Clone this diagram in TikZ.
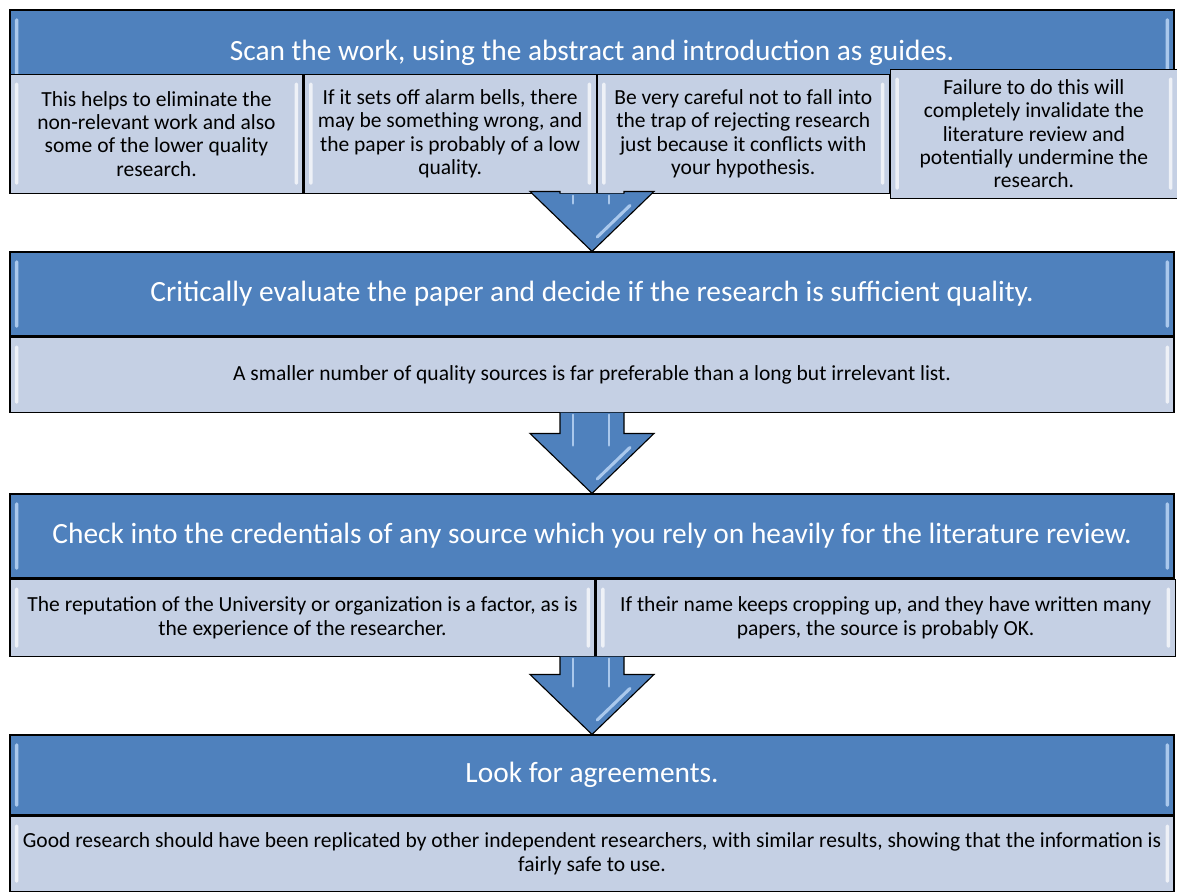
\documentclass[tikz,border=0pt]{standalone}
\usepackage{fontspec}
\setmainfont{Carlito}
\usepackage{tikz}
\usetikzlibrary{positioning,calc}

\definecolor{hdblue}{RGB}{79,129,189}
\definecolor{subblue}{RGB}{197,208,228}
\definecolor{glint}{RGB}{170,200,236}

% block arrow from the bottom of #1 down to the top of #2
\newcommand{\stagearrow}[2]{%
  \draw[barrow] ($(#2.north |- #1.south)+(-0.8,0)$) -- ($(#2.north)+(-0.8,1.5)$)
    -- ($(#2.north)+(-1.55,1.5)$) -- (#2.north) -- ($(#2.north)+(1.55,1.5)$)
    -- ($(#2.north)+(0.8,1.5)$) -- ($(#2.north |- #1.south)+(0.8,0)$);
  \draw[shine] ($(#2.north |- #1.south)+(-0.48,-0.05)$) -- ($(#2.north)+(-0.48,1.2)$);
  \draw[shine] ($(#2.north |- #1.south)+(0.42,-0.05)$) -- ($(#2.north)+(0.42,1.2)$);
  \draw[shine, line width=2.2pt] ($(#2.north)+(0.13,0.36)$) -- ($(#2.north)+(0.95,1.15)$);
}

\begin{document}
\begin{tikzpicture}[
    bevel/.style={path picture={
        \fill[#1, rounded corners=1pt]
          ([xshift=3.5pt,yshift=-6pt]path picture bounding box.north west) rectangle
          ([xshift=6pt,yshift=6pt]path picture bounding box.south west);
        \fill[#1, rounded corners=1pt]
          ([xshift=-3.5pt,yshift=-6pt]path picture bounding box.north east) rectangle
          ([xshift=-6pt,yshift=6pt]path picture bounding box.south east);}},
    head/.style={draw=black, line width=0.8pt, fill=hdblue, text=white,
                 bevel=glint, inner sep=0pt, minimum width=29.1cm,
                 font=\fontsize{20.9}{24}\selectfont},
    sub/.style={draw=black, line width=0.8pt, fill=subblue, align=center,
                bevel=white!70!subblue, inner sep=0pt,
                font=\fontsize{15.3}{16.6}\selectfont},
    barrow/.style={draw=black, line width=0.8pt, fill=hdblue, line join=miter},
    shine/.style={glint, line width=1.6pt, line cap=round}
]
\useasboundingbox (0,0) rectangle (29.425,-22.3);

% stage 1
\node[head, minimum height=2.125cm] (hd1) at (14.8,-1.3125)
    {Scan the work, using the abstract and introduction as guides.};
\node[sub, minimum width=7.325cm, minimum height=2.975cm, anchor=north west]
    (s1a) at ($(hd1.south west)+(0,0.55)$)
    {This helps to eliminate the\\ non-relevant work and also\\
     some of the lower quality\\ research.};
\node[sub, minimum width=7.3cm, minimum height=2.975cm, anchor=north west]
    (s1b) at (s1a.north east)
    {If it sets off alarm bells, there\\ may be something wrong, and\\
     the paper is probably of a low\\ quality.};
\node[sub, minimum width=7.3cm, minimum height=2.975cm, anchor=north west]
    (s1c) at (s1b.north east)
    {Be very careful not to fall into\\ the trap of rejecting research\\
     just because it conflicts with\\ your hypothesis.};
\node[sub, minimum width=7.175cm, minimum height=3.225cm, anchor=west]
    (s1d) at (s1c.east)
    {Failure to do this will\\ completely invalidate the\\ literature review and\\
     potentially undermine the\\ research.};

% stage 2
\node[head, minimum height=2.1cm] (hd2) at (14.8,-7.35)
    {Critically evaluate the paper and decide if the research is sufficient quality.};
\node[sub, minimum width=29.1cm, minimum height=1.875cm, below=0pt of hd2] (s2)
    {A smaller number of quality sources is far preferable than a long but irrelevant list.};

% stage 3
\node[head, minimum height=2.1cm] (hd3) at (14.8,-13.4)
    {Check into the credentials of any source which you rely on heavily for the literature review.};
\node[sub, minimum width=14.625cm, minimum height=1.925cm, anchor=north west]
    (s3a) at (hd3.south west)
    {The reputation of the University or organization is a factor, as is\\
     the experience of the researcher.};
\node[sub, minimum width=14.475cm, minimum height=1.925cm, anchor=north west]
    (s3b) at (s3a.north east)
    {If their name keeps cropping up, and they have written many\\
     papers, the source is probably OK.};

% stage 4
\node[head, minimum height=2.0cm] (hd4) at (14.8,-19.375) {Look for agreements.};
\node[sub, minimum width=29.1cm, minimum height=1.875cm, below=0pt of hd4] (s4)
    {Good research should have been replicated by other independent researchers,
     with similar results, showing that the information is\\ fairly safe to use.};

% arrows between the stages
\stagearrow{s1b}{hd2}
\stagearrow{s2}{hd3}
\stagearrow{s3a}{hd4}
\end{tikzpicture}
\end{document}
